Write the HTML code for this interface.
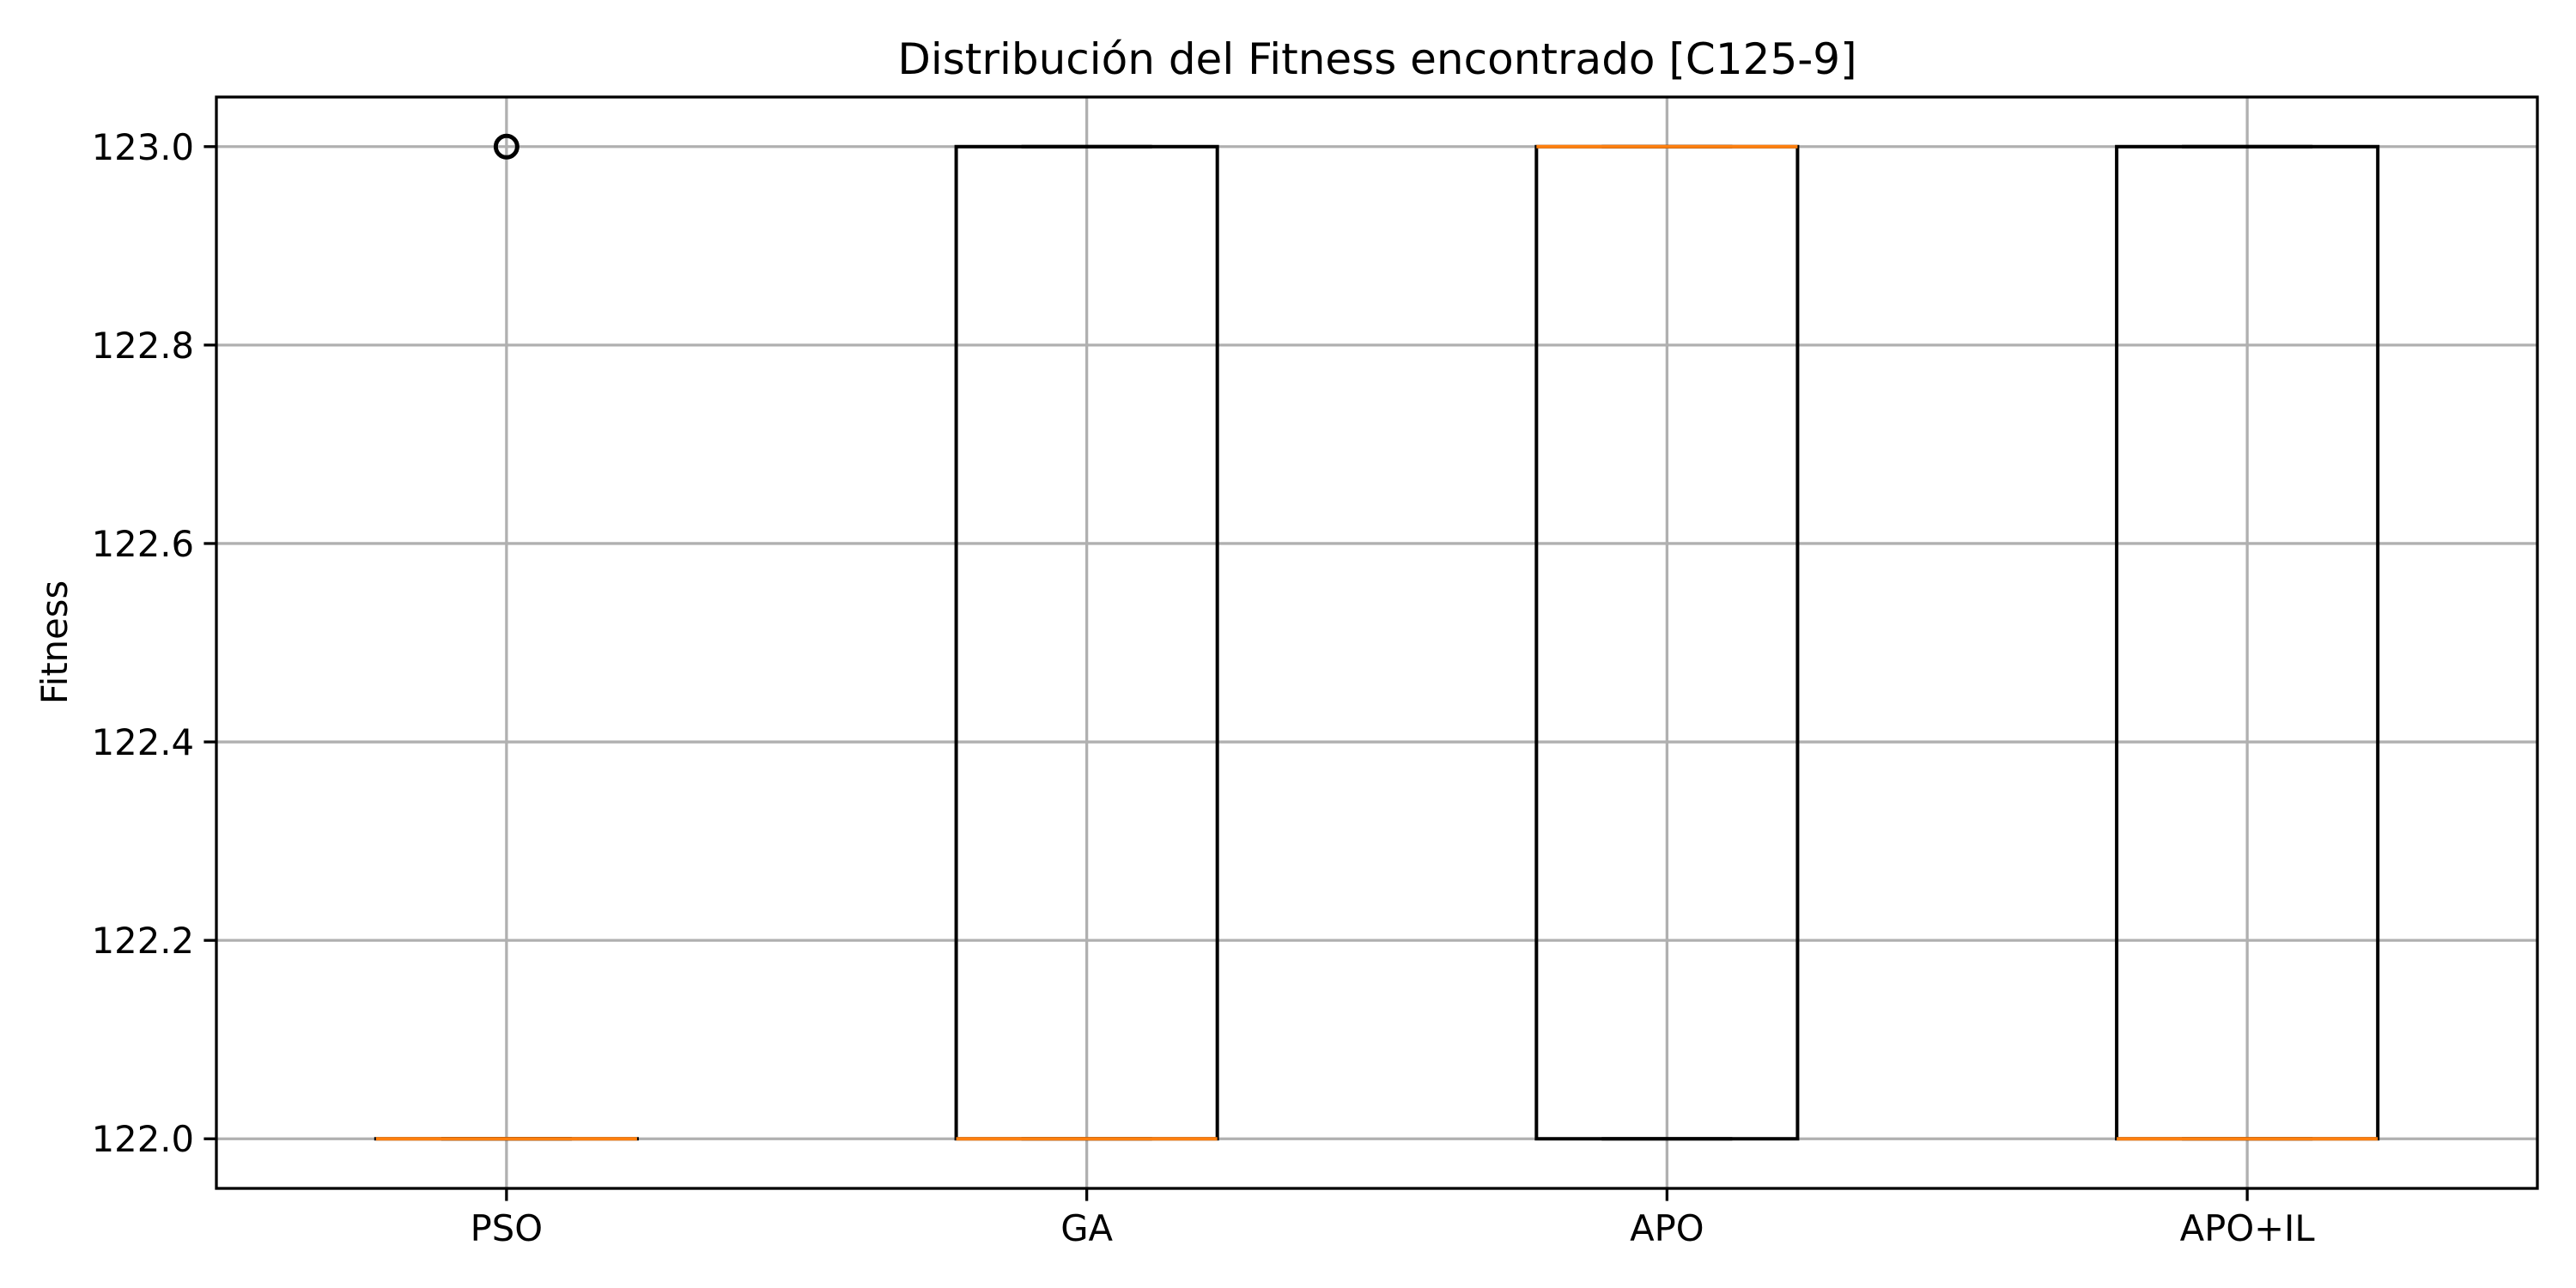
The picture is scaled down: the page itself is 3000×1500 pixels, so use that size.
<!DOCTYPE html>
<html><head><meta charset="utf-8"><style>
html,body{margin:0;padding:0;background:#fff;}
svg{display:block;font-family:"DejaVu Sans","Liberation Sans",sans-serif;}
</style></head><body>
<svg id="chart" width="3000" height="1500" viewBox="0 0 3000 1500" xmlns="http://www.w3.org/2000/svg">
<rect width="3000" height="1500" fill="#fff"/>
<text x="1604" y="86" font-size="50" text-anchor="middle">Distribución del Fitness encontrado [C125-9]</text>
<text transform="translate(78,748) rotate(-90)" font-size="41.7" text-anchor="middle">Fitness</text>
<g id="grid"></g>
<g id="marks"></g>
<rect x="252" y="113" width="2703" height="1271" fill="none" stroke="#000" stroke-width="3.3"/>
<g id="axes"></g>
</svg>
<script>
const categories = ["PSO","GA","APO","APO+IL"];
const q1Values = [122,122,122,122];
const q3Values = [122,123,123,123];
const medianValues = [122,122,123,122];
const whiskerLow = [122,122,122,122];
const whiskerHigh = [122,123,123,123];
const outliers = [[123],[],[],[]];
const yTicks = [122.0,122.2,122.4,122.6,122.8,123.0];
const yTickLabels = ["122.0","122.2","122.4","122.6","122.8","123.0"];

const L=252,R=2955,T=113,B=1384;
const yMin=121.95,yMax=123.05;
const y=v=>B-(v-yMin)/(yMax-yMin)*(B-T);
const x=i=>L+(i+0.5)/categories.length*(R-L);
const boxW=0.45*(R-L)/categories.length;
const NS="http://www.w3.org/2000/svg";
function mk(tag,attrs,parent){const e=document.createElementNS(NS,tag);for(const k in attrs)e.setAttribute(k,attrs[k]);parent.appendChild(e);return e;}
const grid=document.getElementById('grid'),marks=document.getElementById('marks'),axes=document.getElementById('axes');
yTicks.forEach((v,i)=>{
  const g=mk('line',{x1:L,x2:R,y1:y(v),y2:y(v),stroke:'#b0b0b0','stroke-width':3.3},grid);
  
  
  const t=mk('line',{x1:L-14.6,x2:L,y1:y(v),y2:y(v),stroke:'#000','stroke-width':3.3},axes);
  
  
  const lb=mk('text',{x:L-26,y:y(v)+15,'font-size':41.7,'text-anchor':'end'},axes);
  lb.textContent=yTickLabels[i];
  
  
});
categories.forEach((c,i)=>{
  const cx=x(i);
  const g=mk('line',{x1:cx,x2:cx,y1:T,y2:B,stroke:'#b0b0b0','stroke-width':3.3},grid);
  
  
  const t=mk('line',{x1:cx,x2:cx,y1:B,y2:B+14.6,stroke:'#000','stroke-width':3.3},axes);
  
  
  const lb=mk('text',{x:cx,y:1445,'font-size':41.7,'text-anchor':'middle'},axes);
  lb.textContent=c;
  
  
  const w1=mk('line',{x1:cx,x2:cx,y1:y(q1Values[i]),y2:y(whiskerLow[i]),stroke:'#000','stroke-width':4},marks);
  
  
  const w2=mk('line',{x1:cx,x2:cx,y1:y(q3Values[i]),y2:y(whiskerHigh[i]),stroke:'#000','stroke-width':4},marks);
  
  
  const capW=boxW/2;
  const c1=mk('line',{x1:cx-capW/2,x2:cx+capW/2,y1:y(whiskerLow[i]),y2:y(whiskerLow[i]),stroke:'#000','stroke-width':4},marks);
  
  
  const c2=mk('line',{x1:cx-capW/2,x2:cx+capW/2,y1:y(whiskerHigh[i]),y2:y(whiskerHigh[i]),stroke:'#000','stroke-width':4},marks);
  
  
  const top=y(q3Values[i]),bot=y(q1Values[i]);
  const b=mk('rect',{x:cx-boxW/2,y:top,width:boxW,height:Math.max(bot-top,0.01),fill:'none',stroke:'#000','stroke-width':4},marks);
  
  
  const m=mk('line',{x1:cx-boxW/2,x2:cx+boxW/2,y1:y(medianValues[i]),y2:y(medianValues[i]),stroke:'#ff7f0e','stroke-width':4},marks);
  
  
  outliers[i].forEach(v=>{
    const o=mk('circle',{cx:cx,cy:y(v),r:12.5,fill:'none',stroke:'#000','stroke-width':5},marks);
    
    
  });
});
</script>
</body></html>
